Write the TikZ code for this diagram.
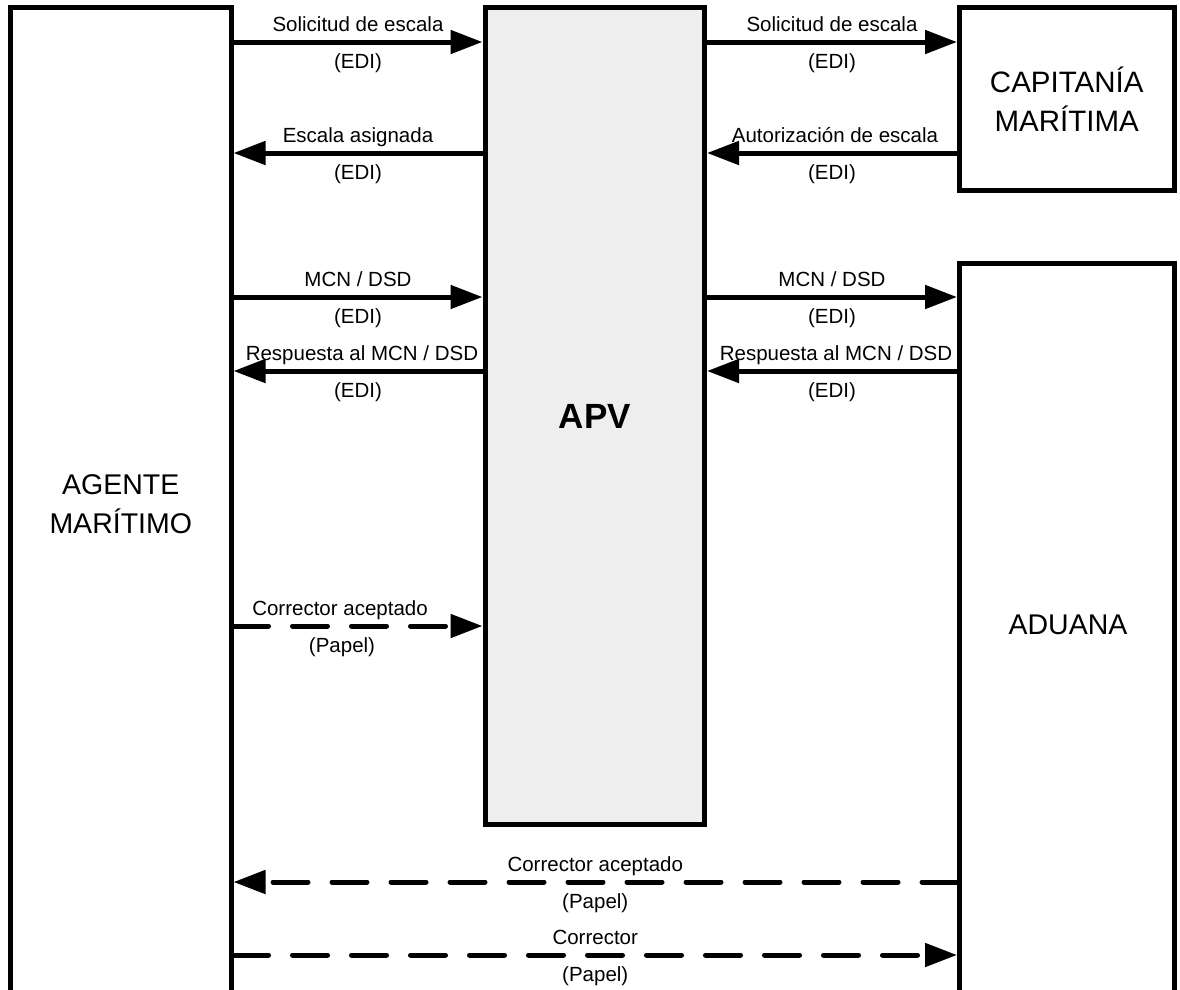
\documentclass[tikz,border=0pt]{standalone}
\usepackage{fontspec}
\setmainfont{Liberation Sans}
\usetikzlibrary{arrows.meta}
\definecolor{apvgray}{HTML}{EEEEEE}
\begin{document}
\begin{tikzpicture}[x=1pt,y=-1pt,
  box/.style={draw, line width=5pt, inner sep=0pt, align=center, font=\fontsize{28.5pt}{39pt}\selectfont},
  arr/.style={line width=5pt, -{Triangle[length=32pt,width=23pt]}},
  dsh/.style={arr, line cap=round, dash pattern=on 35pt off 24pt},
  lbl/.style={font=\fontsize{20.5pt}{24pt}\selectfont, inner sep=0pt, anchor=base},
  up/.style={lbl, yshift=11pt},
  dn/.style={lbl, yshift=-26pt},
]
\useasboundingbox (0,0) rectangle (1180,989);
\clip (0,0) rectangle (1180,989);

\node[box, minimum width=220.5pt, minimum height=992.5pt] (agente) at (120.75,503.75) {AGENTE\\MARÍTIMO};
\node[box, fill=apvgray, minimum width=219.5pt, minimum height=817pt, font=\fontsize{35pt}{40pt}\selectfont\bfseries] (apv) at (594.75,416) {APV};
\node[box, minimum width=214.5pt, minimum height=182.5pt, font=\fontsize{29.5pt}{39pt}\selectfont] (capitania) at (1066.75,98.75) {CAPITANÍA\\MARÍTIMA};
\node[box, minimum width=214.5pt, minimum height=747pt] (aduana) at (1066.75,636.5) {};
\node[font=\fontsize{28.5pt}{38pt}\selectfont, inner sep=0pt] (aduanalbl) at (1068,625) {ADUANA};

% left column
\draw[arr] (agente.east |- 0,42) -- (apv.west |- 0,42)
  node[midway, up] (l1a) {Solicitud de escala} node[midway, dn] (l1b) {(EDI)};
\draw[arr] (apv.west |- 0,153) -- (agente.east |- 0,153)
  node[midway, up] (l2a) {Escala asignada} node[midway, dn] (l2b) {(EDI)};
\draw[arr] (agente.east |- 0,297) -- (apv.west |- 0,297)
  node[midway, up] (l3a) {MCN / DSD} node[midway, dn] (l3b) {(EDI)};
\draw[arr] (apv.west |- 0,371) -- (agente.east |- 0,371)
  node[midway, up, xshift=4pt] (l4a) {Respuesta al MCN / DSD} node[midway, dn] (l4b) {(EDI)};
\draw[dsh] (agente.east |- 0,626) -- (apv.west |- 0,626)
  node[midway, up, xshift=-18pt] (l5a) {Corrector aceptado} node[midway, dn, xshift=-16pt] (l5b) {(Papel)};

% right column
\draw[arr] (apv.east |- 0,42) -- (capitania.west |- 0,42)
  node[midway, up] (r1a) {Solicitud de escala} node[midway, dn] (r1b) {(EDI)};
\draw[arr] (capitania.west |- 0,153) -- (apv.east |- 0,153)
  node[midway, up, xshift=3pt] (r2a) {Autorización de escala} node[midway, dn] (r2b) {(EDI)};
\draw[arr] (apv.east |- 0,297) -- (aduana.west |- 0,297)
  node[midway, up] (r3a) {MCN / DSD} node[midway, dn] (r3b) {(EDI)};
\draw[arr] (aduana.west |- 0,371) -- (apv.east |- 0,371)
  node[midway, up, xshift=4pt] (r4a) {Respuesta al MCN / DSD} node[midway, dn] (r4b) {(EDI)};

% bottom
\draw[dsh] (aduana.west |- 0,882) -- (agente.east |- 0,882)
  node[midway, up] (b1a) {Corrector aceptado} node[midway, dn] (b1b) {(Papel)};
\draw[dsh] (agente.east |- 0,955) -- (aduana.west |- 0,955)
  node[midway, up] (b2a) {Corrector} node[midway, dn] (b2b) {(Papel)};
\end{tikzpicture}
\end{document}
